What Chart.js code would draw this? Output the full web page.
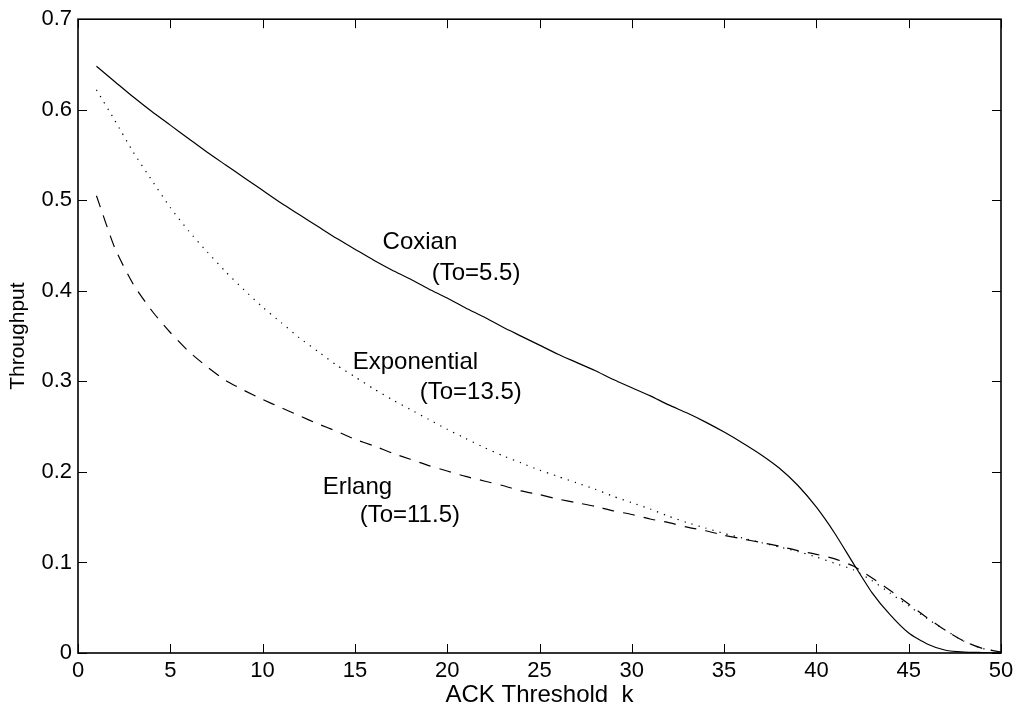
<!DOCTYPE html>
<html>
<head>
<meta charset="utf-8">
<script src="https://cdn.jsdelivr.net/npm/chart.js@4.4.1/dist/chart.umd.min.js"></script>
<style>
    html, body { margin: 0; padding: 0; background: #fff; }
    #throughput { display: block; }
</style>
</head>
<body>
<canvas id="throughput" width="1019" height="710"></canvas>
<script>
    // ACK threshold k (x values)
    const thresholds = [1, 2, 3, 4, 5, 6, 7, 8, 9, 10,
        11, 12, 13, 14, 15, 16, 17, 18, 19, 20,
        21, 22, 23, 24, 25, 26, 27, 28, 29, 30,
        31, 32, 33, 34, 35, 36, 37, 38, 39, 40,
        41, 42, 43, 44, 45, 46, 47, 48, 49, 50];

    const coxian = [0.648, 0.631, 0.614, 0.598, 0.583, 0.568, 0.553, 0.539, 0.525, 0.511,
        0.497, 0.484, 0.471, 0.458, 0.446, 0.434, 0.423, 0.413, 0.402, 0.392,
        0.381, 0.371, 0.360, 0.350, 0.340, 0.330, 0.321, 0.312, 0.302, 0.293,
        0.284, 0.274, 0.265, 0.255, 0.244, 0.232, 0.219, 0.204, 0.185, 0.161,
        0.132, 0.099, 0.067, 0.042, 0.022, 0.010, 0.003, 0.001, 0.0005, 0.0];

    const exponential = [0.622, 0.588, 0.553, 0.522, 0.492, 0.466, 0.443, 0.421, 0.401, 0.382,
        0.365, 0.348, 0.333, 0.318, 0.305, 0.292, 0.280, 0.269, 0.258, 0.247,
        0.237, 0.227, 0.218, 0.210, 0.202, 0.195, 0.188, 0.181, 0.173, 0.166,
        0.159, 0.151, 0.144, 0.138, 0.132, 0.127, 0.122, 0.117, 0.112, 0.106,
        0.099, 0.092, 0.080, 0.066, 0.052, 0.038, 0.025, 0.013, 0.005, 0.001];

    const erlang = [0.505, 0.447, 0.407, 0.378, 0.354, 0.333, 0.316, 0.301, 0.290, 0.280,
        0.271, 0.262, 0.253, 0.245, 0.236, 0.229, 0.221, 0.214, 0.207, 0.201,
        0.195, 0.190, 0.185, 0.179, 0.175, 0.170, 0.166, 0.162, 0.157, 0.153,
        0.148, 0.144, 0.139, 0.135, 0.130, 0.126, 0.122, 0.118, 0.113, 0.109,
        0.104, 0.096, 0.083, 0.069, 0.054, 0.039, 0.025, 0.013, 0.005, 0.001];

    const xTickValues = [0, 5, 10, 15, 20, 25, 30, 35, 40, 45, 50];
    const yTickValues = [0, 0.1, 0.2, 0.3, 0.4, 0.5, 0.6, 0.7];
    const yTickLabels = ['0', '0.1', '0.2', '0.3', '0.4', '0.5', '0.6', '0.7'];

    // curve annotations, anchored in data coordinates
    const noteTexts = ['Coxian', '(To=5.5)', 'Exponential', '(To=13.5)', 'Erlang', '(To=11.5)'];
    const noteK = [16.5, 19.16, 14.88, 18.51, 13.26, 15.26];
    const noteY = [0.446, 0.412, 0.314, 0.281, 0.176, 0.145];

    const fontFamily = '"Liberation Sans", Arial, Helvetica, sans-serif';

    function toPoints(values) {
        return values.map((v, i) => ({x: thresholds[i], y: v}));
    }

    // box round the plot, inward ticks on all four sides, curve labels
    const framePlugin = {
        id: 'frame',
        afterDraw(chart) {
            const ctx = chart.ctx;
            const area = chart.chartArea;
            const xs = chart.scales.x;
            const ys = chart.scales.y;
            const tick = 9;
            ctx.save();
            ctx.strokeStyle = '#000';
            ctx.lineWidth = 1;
            ctx.beginPath();
            xTickValues.forEach((v) => {
                const px = Math.round(xs.getPixelForValue(v)) + 0.5;
                ctx.moveTo(px, area.bottom);
                ctx.lineTo(px, area.bottom - tick);
                ctx.moveTo(px, area.top);
                ctx.lineTo(px, area.top + tick);
            });
            yTickValues.forEach((v) => {
                const py = Math.round(ys.getPixelForValue(v)) + 0.5;
                ctx.moveTo(area.left, py);
                ctx.lineTo(area.left + tick, py);
                ctx.moveTo(area.right, py);
                ctx.lineTo(area.right - tick, py);
            });
            ctx.stroke();
            ctx.lineWidth = 1.6;
            ctx.strokeRect(area.left, area.top, area.right - area.left, area.bottom - area.top);

            ctx.fillStyle = '#000';
            ctx.font = '24px ' + fontFamily;
            ctx.textAlign = 'left';
            ctx.textBaseline = 'alphabetic';
            noteTexts.forEach((t, i) => {
                ctx.fillText(t, xs.getPixelForValue(noteK[i]), ys.getPixelForValue(noteY[i]));
            });
            ctx.restore();
        }
    };

    const lineStyle = {
        borderColor: '#000',
        backgroundColor: '#000',
        borderWidth: 1.2,
        pointRadius: 0,
        tension: 0.2,
        fill: false
    };

    new Chart(document.getElementById('throughput').getContext('2d'), {
        type: 'line',
        data: {
            datasets: [
                Object.assign({label: 'Coxian', data: toPoints(coxian)}, lineStyle),
                Object.assign({label: 'Exponential', data: toPoints(exponential), borderDash: [1.3, 6]}, lineStyle),
                Object.assign({label: 'Erlang', data: toPoints(erlang), borderDash: [12, 9]}, lineStyle)
            ]
        },
        options: {
            responsive: false,
            animation: false,
            devicePixelRatio: 1,
            layout: {
                padding: {top: 16, right: 18, left: 0, bottom: 0}
            },
            plugins: {
                legend: {display: false},
                tooltip: {enabled: false}
            },
            scales: {
                x: {
                    type: 'linear',
                    min: 0,
                    max: 50,
                    afterBuildTicks: (scale) => {
                        scale.ticks = xTickValues.map((v) => ({value: v}));
                    },
                    afterFit: (scale) => {
                        scale.height = 57;
                    },
                    grid: {display: false, drawTicks: false},
                    border: {display: false},
                    ticks: {
                        color: '#000',
                        padding: 5,
                        maxRotation: 0,
                        autoSkip: false,
                        font: {family: fontFamily, size: 22}
                    },
                    title: {
                        display: true,
                        text: 'ACK Threshold  k',
                        color: '#000',
                        font: {family: fontFamily, size: 24},
                        padding: {top: 0, bottom: 0}
                    }
                },
                y: {
                    type: 'linear',
                    min: 0,
                    max: 0.7,
                    afterBuildTicks: (scale) => {
                        scale.ticks = yTickValues.map((v) => ({value: v}));
                    },
                    afterFit: (scale) => {
                        scale.width = 78;
                    },
                    grid: {display: false, drawTicks: false},
                    border: {display: false},
                    ticks: {
                        color: '#000',
                        padding: 6,
                        autoSkip: false,
                        font: {family: fontFamily, size: 22},
                        callback: function(value, index) {
                            return yTickLabels[index];
                        }
                    },
                    title: {
                        display: true,
                        text: 'Throughput',
                        color: '#000',
                        font: {family: fontFamily, size: 21},
                        padding: {top: 6, bottom: 0}
                    }
                }
            }
        },
        plugins: [framePlugin]
    });
</script>
</body>
</html>
